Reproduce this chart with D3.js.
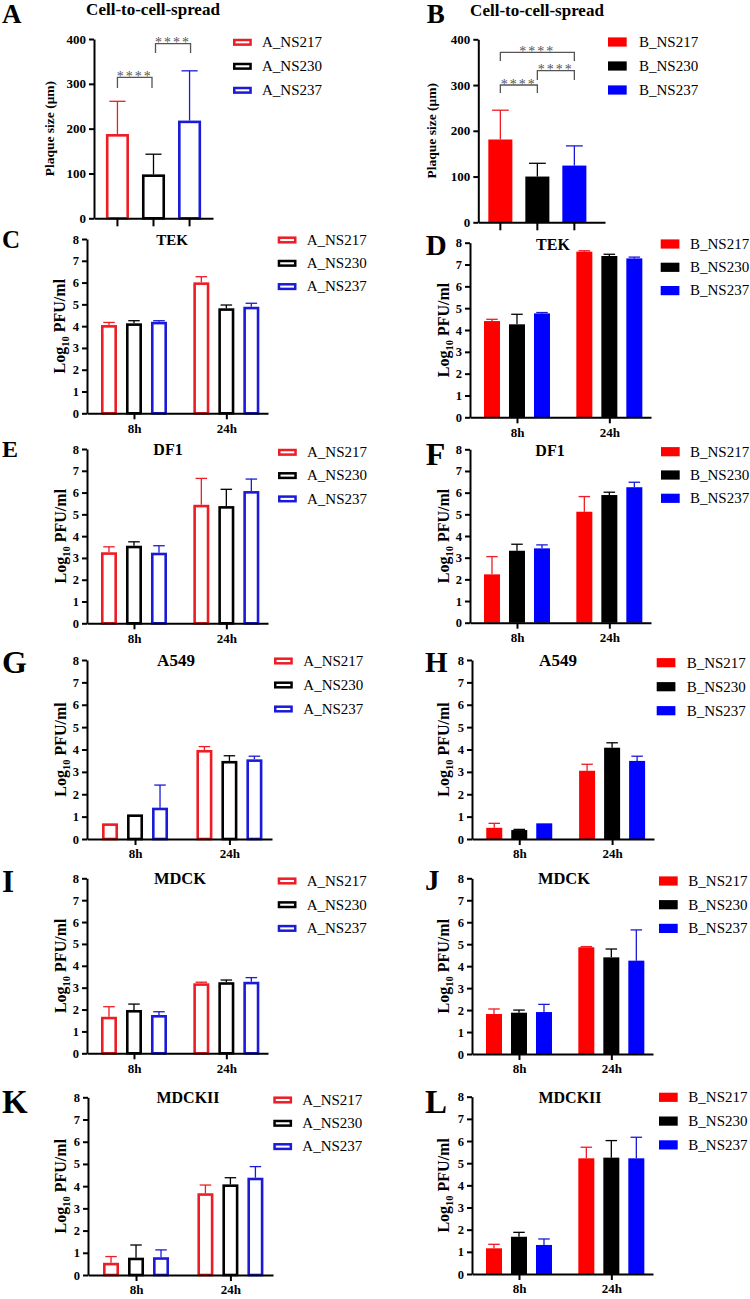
<!DOCTYPE html>
<html><head><meta charset="utf-8">
<script src="https://cdn.jsdelivr.net/npm/d3@7"></script>
<style>
body{margin:0;background:#fff}
svg{display:block}
svg text{font-family:'Liberation Serif','Times New Roman',serif}
</style>
</head><body>
<svg id="c" width="750" height="1299" font-family="Liberation Serif, Times New Roman, serif"></svg>
<script>
// ---------------- DATA ----------------
const seriesA = ["A_NS217","A_NS230","A_NS237"];
const seriesB = ["B_NS217","B_NS230","B_NS237"];
const timepoints = ["8h","24h"];
const plaqueTicks = [0,100,200,300,400];
const logTicks = [0,1,2,3,4,5,6,7,8];

// Plaque size (µm): mean and SD per virus
const plaqueA_mean = [188, 98, 218];
const plaqueA_sd   = [73, 45, 111];
const plaqueB_mean = [181, 100, 124];
const plaqueB_sd   = [64, 29, 43];
// significance comparisons [barIndex1, barIndex2, label]
const sigA = [[0,1,"****"],[1,2,"****"]];
const sigB = [[0,2,"****"],[1,2,"****"],[0,1,"****"]];

// Log10 PFU/ml : [timepoint][virus]
const tekA_mean  = [[4.05,4.13,4.20],[6.01,4.82,4.89]];
const tekA_sd    = [[0.12,0.12,0.05],[0.26,0.15,0.16]];
const tekB_mean  = [[4.41,4.26,4.76],[7.59,7.39,7.28]];
const tekB_sd    = [[0.08,0.46,0.04],[0.04,0.08,0.06]];
const df1A_mean  = [[3.26,3.56,3.24],[5.44,5.38,6.07]];
const df1A_sd    = [[0.25,0.18,0.32],[1.21,0.77,0.55]];
const df1B_mean  = [[2.23,3.32,3.43],[5.12,5.89,6.25]];
const df1B_sd    = [[0.82,0.30,0.16],[0.70,0.13,0.23]];
const a549A_mean = [[0.70,1.10,1.40],[3.98,3.49,3.56]];
const a549A_sd   = [[0,0,1.01],[0.15,0.23,0.14]];
const a549B_mean = [[0.50,0.40,0.70],[3.05,4.08,3.49]];
const a549B_sd   = [[0.20,0.03,0],[0.29,0.22,0.21]];
const mdckA_mean = [[1.67,1.98,1.75],[3.20,3.25,3.27]];
const mdckA_sd   = [[0.46,0.27,0.15],[0.05,0.10,0.19]];
const mdckB_mean = [[1.82,1.88,1.91],[4.86,4.40,4.25]];
const mdckB_sd   = [[0.23,0.12,0.35],[0.03,0.38,1.40]];
const mdck2A_mean= [[0.55,0.78,0.80],[3.68,4.08,4.38]];
const mdck2A_sd  = [[0.28,0.57,0.33],[0.37,0.30,0.50]];
const mdck2B_mean= [[1.16,1.68,1.31],[5.22,5.25,5.22]];
const mdck2B_sd  = [[0.18,0.20,0.27],[0.50,0.77,0.95]];

const growthPanels = [
  {id:"C", title:"TEK",    series:seriesA, mean:tekA_mean,  sd:tekA_sd,  open:true},
  {id:"D", title:"TEK",    series:seriesB, mean:tekB_mean,  sd:tekB_sd,  open:false},
  {id:"E", title:"DF1",    series:seriesA, mean:df1A_mean,  sd:df1A_sd,  open:true},
  {id:"F", title:"DF1",    series:seriesB, mean:df1B_mean,  sd:df1B_sd,  open:false},
  {id:"G", title:"A549",   series:seriesA, mean:a549A_mean, sd:a549A_sd, open:true},
  {id:"H", title:"A549",   series:seriesB, mean:a549B_mean, sd:a549B_sd, open:false},
  {id:"I", title:"MDCK",   series:seriesA, mean:mdckA_mean, sd:mdckA_sd, open:true},
  {id:"J", title:"MDCK",   series:seriesB, mean:mdckB_mean, sd:mdckB_sd, open:false},
  {id:"K", title:"MDCKII", series:seriesA, mean:mdck2A_mean,sd:mdck2A_sd,open:true},
  {id:"L", title:"MDCKII", series:seriesB, mean:mdck2B_mean,sd:mdck2B_sd,open:false}
];

// ---------------- LAYOUT ----------------
const FONT = "Liberation Serif, Times New Roman, serif";
const layout = {
  A:{x0:94,x1:213,yT:39,yB:218.3,pi:0.36,po:0.33,al:0.5,letter:[2,23,27],title:[153,15,17],leg:[233,262,42.3,24],ylab:54,
     br:[[77.3,10.7,0,-1.5],[43.7,9.3,2,1]]},
  B:{x0:478.3,x1:605,yT:39.3,yB:222.3,pi:0.35,po:0.387,al:0.35,letter:[426.7,23,27],title:[537,16,17],leg:[608,639,42,24],ylab:436,
     br:[[52.3,8.7,0,0],[70.7,9.3,0,0],[85,8,0,0]]},
  C:{x0:87,x1:268,yT:239,yB:413.3,letter:[2,247.7,25],title:[172,244.5,15],leg:[277.7,306.7,240,23.3],ylab:65},
  D:{x0:470,x1:651,yT:242.7,yB:417.3,letter:[425.7,254.5,29],title:[553,250,16],leg:[660.7,690,244,23.3],ylab:449},
  E:{x0:87,x1:268,yT:449,yB:623.3,letter:[2,456.7,24],title:[168,455,16],leg:[278,307,452.3,23.3],ylab:66},
  F:{x0:470,x1:651,yT:449.3,yB:622.7,letter:[425.7,465,32],title:[550,456,16],leg:[661,690,451.7,23.3],ylab:449},
  G:{x0:87,x1:272,yT:660,yB:839,letter:[2,673,32],title:[176,666,17],leg:[274,303.3,661,24],ylab:66},
  H:{x0:472,x1:654,yT:660,yB:839,letter:[425,671.7,29],title:[558,666,17],leg:[656.7,686.7,662.7,24],ylab:449},
  I:{x0:87,x1:268,yT:878.3,yB:1053.3,letter:[2,891.7,31],title:[180,884.3,16.5],leg:[277.7,306.7,881,23.7],ylab:66},
  J:{x0:472,x1:653,yT:878.3,yB:1054,letter:[425,890,29],title:[564,884.3,16.5],leg:[659,688.3,881,23.7],ylab:449},
  K:{x0:88,x1:273,yT:1097.3,yB:1275,letter:[2,1113,33],title:[188,1102.7,16],leg:[273.3,302.3,1100,23.3],ylab:66},
  L:{x0:472,x1:653,yT:1096.7,yB:1274,letter:[425,1113,33],title:[570,1102.7,16],leg:[659,688.3,1097.3,23.8],ylab:449}
};

const fillCol = ["#ff0000","#000000","#0000ff"];
const lineCol = ["#ee1c24","#000000","#1a1ad8"];
const SW = 2.6; // outline stroke width

const svg = d3.select("#c");

function txt(sel){ return sel.attr("font-family", FONT); }

function styleAxis(g, fs){
  g.attr("font-family", FONT);
  g.select(".domain").attr("stroke","#000").attr("stroke-width",2);
  g.selectAll(".tick line").attr("stroke","#000").attr("stroke-width",2);
  txt(g.selectAll(".tick text")).attr("fill","#000")
    .style("font-weight","bold").style("font-size",fs+"px");
}

function drawLetter(id, L){
  txt(svg.append("text")).attr("x",L.letter[0]).attr("y",L.letter[1])
    .style("font-weight","bold").style("font-size",L.letter[2]+"px").text(id);
}
function drawTitle(t, L){
  txt(svg.append("text")).attr("x",L.title[0]).attr("y",L.title[1]).attr("text-anchor","middle")
    .style("font-weight","bold").style("font-size",L.title[2]+"px").text(t);
}
function drawLegend(series, L, open){
  const [rx, tx, r0, dy] = L.leg;
  series.forEach((s,i)=>{
    const cy = r0 + i*dy;
    if(open){
      svg.append("rect").attr("x",rx+1.25).attr("y",cy-2.3).attr("width",16.3).attr("height",4.6)
        .attr("fill","none").attr("stroke",lineCol[i]).attr("stroke-width",2.5);
    } else {
      svg.append("rect").attr("x",rx).attr("y",cy-4.6).attr("width",18.7).attr("height",9.2)
        .attr("fill",fillCol[i]);
    }
    txt(svg.append("text")).attr("x",tx).attr("y",cy+4.8).style("font-size","15px").text(s);
  });
}

// ------------- Plaque panels (A, B) -------------
function drawPlaque(id, series, mean, sd, sig, open){
  const L = layout[id];
  const y = d3.scaleLinear().domain([0,400]).range([L.yB, L.yT]);
  const x = d3.scaleBand().domain(series).range([L.x0, L.x1])
    .paddingInner(L.pi).paddingOuter(L.po).align(L.al);
  const bw = x.bandwidth();
  const g = svg.append("g");
  series.forEach((s,i)=>{
    const cx = x(s) + bw/2;
    const top = y(mean[i]), err = y(mean[i]+sd[i]);
    g.append("line").attr("x1",cx).attr("x2",cx).attr("y1",top).attr("y2",err)
      .attr("stroke",lineCol[i]).attr("stroke-width",1.3);
    g.append("line").attr("x1",cx-bw*0.35).attr("x2",cx+bw*0.35).attr("y1",err).attr("y2",err)
      .attr("stroke",lineCol[i]).attr("stroke-width",1.3);
    if(open){
      g.append("rect").attr("x",x(s)+SW/2).attr("width",bw-SW).attr("y",top+SW/2)
        .attr("height",y(0)-top-SW/2).attr("fill","#fff").attr("stroke",lineCol[i]).attr("stroke-width",SW);
    } else {
      g.append("rect").attr("x",x(s)).attr("width",bw).attr("y",top)
        .attr("height",y(0)-top).attr("fill",fillCol[i]);
    }
  });
  const ya = svg.append("g").attr("transform",`translate(${L.x0},0)`)
    .call(d3.axisLeft(y).tickValues(plaqueTicks).tickSize(5).tickSizeOuter(0).tickPadding(3).tickFormat(d3.format("d")));
  styleAxis(ya, 13);
  const xa = svg.append("g").attr("transform",`translate(0,${L.yB})`)
    .call(d3.axisBottom(x).tickSize(8).tickSizeOuter(0).tickFormat(""));
  styleAxis(xa, 12);
  // significance brackets
  sig.forEach((c,k)=>{
    const [by, leg, o1, o2] = L.br[k];
    const xa1 = x(series[c[0]]) + bw/2 + o1, xa2 = x(series[c[1]]) + bw/2 + o2;
    svg.append("path").attr("d",`M${xa1},${by+leg}V${by}H${xa2}V${by+leg}`)
      .attr("fill","none").attr("stroke","#555").attr("stroke-width",1.3);
    txt(svg.append("text")).attr("x",(xa1+xa2)/2).attr("y",by+3.5).attr("text-anchor","middle")
      .style("font-size","14px").style("letter-spacing","2px").attr("fill","#555").text(c[2]);
  });
  // y label
  txt(svg.append("text")).attr("transform",`translate(${L.ylab},${(L.yT+L.yB)/2}) rotate(-90)`)
    .attr("text-anchor","middle").style("font-weight","bold").style("font-size","13.5px")
    .text("Plaque size (\u03bcm)");
  drawLetter(id, L);
  drawTitle("Cell-to-cell-spread", L);
  drawLegend(series, L, open);
}

drawPlaque("A", seriesA, plaqueA_mean, plaqueA_sd, sigA, true);
drawPlaque("B", seriesB, plaqueB_mean, plaqueB_sd, sigB, false);

// ------------- Growth panels (C - L) -------------
function drawGrowth(p){
  const L = layout[p.id];
  const y = d3.scaleLinear().domain([0,8]).range([L.yB, L.yT]);
  const x = d3.scalePoint().domain(timepoints).range([L.x0, L.x1]).padding(0.48).align(0.53);
  const xs = d3.scaleBand().domain(p.series).range([-37.5,37.5]).paddingInner(0.36).paddingOuter(0.18);
  const bw = xs.bandwidth();
  const g = svg.append("g");
  timepoints.forEach((t,ti)=>{
    p.series.forEach((s,i)=>{
      const m = p.mean[ti][i], e = p.sd[ti][i];
      const bx = x(t) + xs(s), cx = bx + bw/2;
      const top = y(m);
      if(e > 0){
        const et = y(m+e);
        g.append("line").attr("x1",cx).attr("x2",cx).attr("y1",top).attr("y2",et)
          .attr("stroke",lineCol[i]).attr("stroke-width",1.3);
        g.append("line").attr("x1",cx-bw*0.36).attr("x2",cx+bw*0.36).attr("y1",et).attr("y2",et)
          .attr("stroke",lineCol[i]).attr("stroke-width",1.3);
      }
      if(p.open){
        g.append("rect").attr("x",bx+SW/2).attr("width",bw-SW).attr("y",top+SW/2)
          .attr("height",Math.max(0,y(0)-top-SW/2)).attr("fill","#fff").attr("stroke",lineCol[i]).attr("stroke-width",SW);
      } else {
        g.append("rect").attr("x",bx).attr("width",bw).attr("y",top)
          .attr("height",y(0)-top).attr("fill",fillCol[i]);
      }
    });
  });
  const ya = svg.append("g").attr("transform",`translate(${L.x0},0)`)
    .call(d3.axisLeft(y).tickValues(logTicks).tickSize(5).tickSizeOuter(0).tickPadding(3).tickFormat(d3.format("d")));
  styleAxis(ya, 12.5);
  const xa = svg.append("g").attr("transform",`translate(0,${L.yB})`)
    .call(d3.axisBottom(x).tickSize(6).tickSizeOuter(0).tickPadding(4));
  styleAxis(xa, 13);
  // y label with subscript
  const t = txt(svg.append("text")).attr("transform",`translate(${L.ylab},${(L.yT+L.yB)/2}) rotate(-90)`)
    .attr("text-anchor","middle").style("font-weight","bold").style("font-size","16px");
  t.append("tspan").text("Log");
  t.append("tspan").text("10").style("font-size","10.5px").attr("dy",4);
  t.append("tspan").text(" PFU/ml").attr("dy",-4);
  drawLetter(p.id, L);
  drawTitle(p.title, L);
  drawLegend(p.series, L, p.open);
}
growthPanels.forEach(drawGrowth);
</script>
</body></html>
